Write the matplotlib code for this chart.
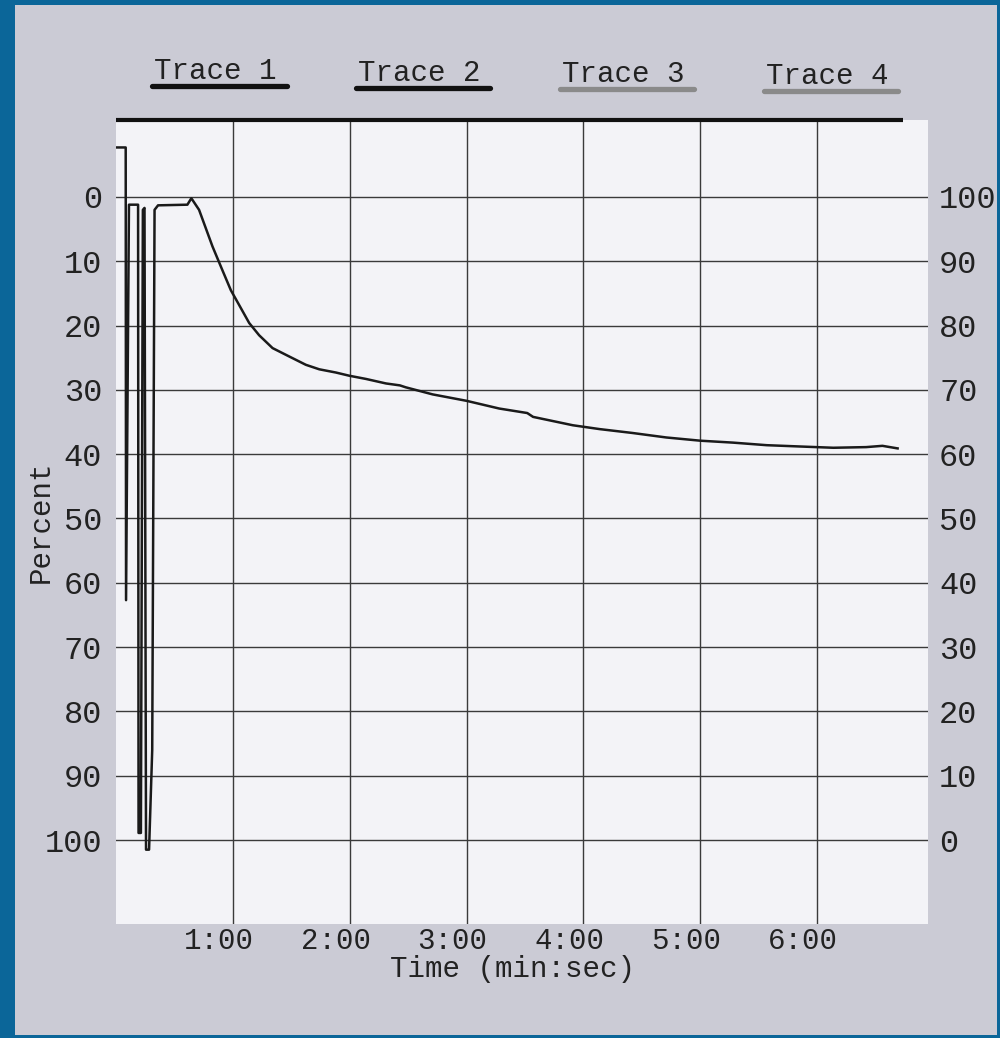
import matplotlib.pyplot as plt
from matplotlib.patches import Rectangle
from matplotlib.transforms import ScaledTranslation

# trace 1: time in minutes, percent (left scale, 0 at top)
temps = [0.000, 0.083, 0.086, 0.111, 0.189, 0.193, 0.213, 0.230, 0.244, 0.257,
         0.283, 0.310, 0.330, 0.360, 0.611, 0.645, 0.711, 0.826, 0.911, 0.983,
         1.054, 1.140, 1.225, 1.340, 1.482, 1.625, 1.740, 1.882, 1.997, 2.140,
         2.311, 2.430, 2.480, 2.710, 3.000, 3.280, 3.520, 3.570, 3.910, 4.140,
         4.420, 4.710, 5.000, 5.280, 5.570, 5.850, 6.140, 6.420, 6.560, 6.690]
pourcent = [-7.7, -7.7, 62.7, 1.2, 1.2, 98.9, 98.9, 2.0, 1.7, 101.5,
            101.5, 86.0, 2.0, 1.3, 1.2, 0.2, 2.0, 7.7, 11.4, 14.5,
            16.8, 19.6, 21.5, 23.5, 24.8, 26.1, 26.8, 27.3, 27.8, 28.3,
            29.0, 29.3, 29.6, 30.7, 31.7, 32.9, 33.6, 34.2, 35.5, 36.1,
            36.7, 37.4, 37.9, 38.2, 38.6, 38.8, 39.0, 38.9, 38.7, 39.1]

minutes = [1, 2, 3, 4, 5, 6]
etiquettes_x = ['1:00', '2:00', '3:00', '4:00', '5:00', '6:00']
graduations = list(range(0, 101, 10))

noms_traces = ['Trace 1', 'Trace 2', 'Trace 3', 'Trace 4']
couleurs_traces = ['#111111', '#111111', '#8a8a8a', '#8a8a8a']

bleu = '#0b6699'
papier = '#cbcbd5'
police = 'Liberation Mono'
taille = 21

fig = plt.figure(figsize=(10, 10.38), dpi=100)
fig.patch.set_facecolor(bleu)
# la feuille scannee
fig.add_artist(Rectangle((0.015, 3 / 1038), 0.982, 1030 / 1038,
                         transform=fig.transFigure, facecolor=papier,
                         edgecolor='none', zorder=0))

ax = fig.add_axes([0.116, 114 / 1038, 0.812, 804 / 1038])
ax.set_facecolor('#f3f3f7')
for s in ax.spines.values():
    s.set_visible(False)

ax.set_xlim(0, 6.95)
ax.set_ylim(113.06, -11.97)

ax.set_xticks(minutes)
ax.set_xticklabels(etiquettes_x, fontfamily=police, fontsize=taille)
ax.set_yticks(graduations)
ax.set_yticklabels([str(g) for g in graduations], fontfamily=police, fontsize=23)
ax.tick_params(length=0)
ax.tick_params(axis='y', pad=10, colors='#222222')
ax.tick_params(axis='x', pad=2, colors='#222222')
decal = ScaledTranslation(-0.14, 0, fig.dpi_scale_trans)
for lab in ax.get_xticklabels():
    lab.set_transform(lab.get_transform() + decal)

ax.grid(True, color='#3a3a3a', lw=1.0)
ax.set_axisbelow(True)

sec = ax.secondary_yaxis('right', functions=(lambda p: 100 - p, lambda r: 100 - r))
sec.set_yticks(graduations)
sec.set_yticklabels([str(g) for g in graduations], fontfamily=police, fontsize=23)
sec.tick_params(length=0, pad=8, colors='#222222')
for s in sec.spines.values():
    s.set_visible(False)

ax.set_xlabel('Time (min:sec)', fontfamily=police, fontsize=taille, color='#222222')
ax.xaxis.set_label_coords(0.488, -0.038)
ax.xaxis.label.set_va('top')
ax.set_ylabel('Percent', fontfamily=police, fontsize=taille, color='#222222')
ax.yaxis.set_label_coords(-0.076, 0.5)

ax.plot(temps, pourcent, color='#1a1a1a', lw=1.8, zorder=3)

# trait epais du haut
ax.plot([0, 0.969], [1.0, 1.0], transform=ax.transAxes, color='#111111',
        lw=3, clip_on=False, solid_capstyle='butt')

# legende en haut
for i, (nom, c) in enumerate(zip(noms_traces, couleurs_traces)):
    cx = 0.127 + 0.2512 * i
    ax.text(cx - 0.005, 1.061 - 0.002 * i, nom, transform=ax.transAxes, ha='center',
            va='center', fontfamily=police, fontsize=taille, color='#222222')
    ax.plot([cx - 0.083, cx + 0.083], [1.042 - 0.002 * i] * 2, transform=ax.transAxes,
            color=c, lw=3.8, clip_on=False, solid_capstyle='round')

fig.savefig('out.png', dpi=100, facecolor=fig.get_facecolor())
